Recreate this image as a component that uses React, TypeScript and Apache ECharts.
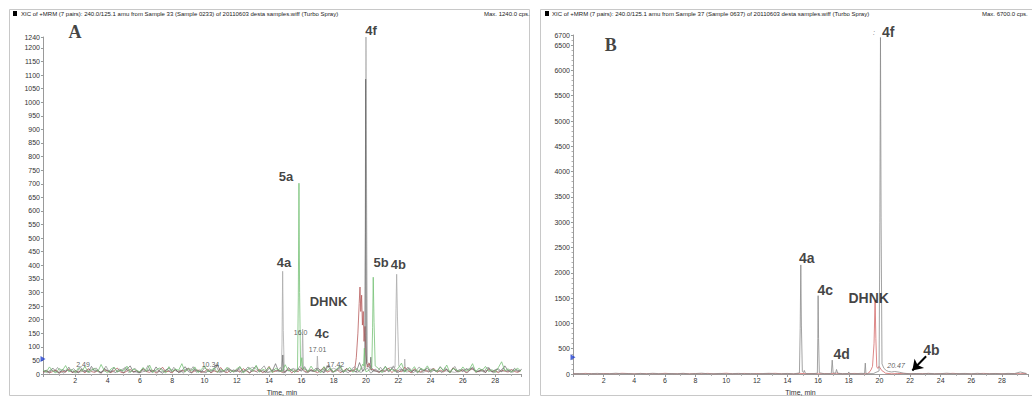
import React, { useEffect, useRef } from "react";
import * as echarts from "echarts";

const FONT = '"Liberation Sans", Arial, sans-serif';

// ---------- Panel A data ----------
const A_STEP = 0.2;
const greyNoiseA = [
  8, 14, 5, 22, 10, 3, 17, 9, 25, 6, 12, 4, 19, 11, 7,
  28, 9, 15, 3, 20, 12, 6, 24, 8, 13, 5, 18, 30, 7, 11,
  4, 21, 9, 16, 6, 26, 10, 3, 14, 22, 8, 17, 5, 12, 27,
  9, 4, 19, 11, 7, 23, 13, 6, 16, 35, 8, 12, 20, 5, 15,
  10, 25, 7, 14, 4, 18, 29, 9, 13, 6, 21, 11, 38, 8, 16,
  5, 24, 12, 7, 19, 10, 27, 6, 15, 9, 22, 13, 4, 31, 17,
  8, 12, 26, 5, 20, 11, 16, 7, 42, 10, 14, 24, 9, 18, 6,
  13, 28, 7, 21, 12, 5, 17, 10, 25, 8, 15, 4, 19, 11, 23,
  6, 14, 9, 27, 12, 18, 5, 22, 10, 16, 8, 20, 13, 26, 7,
  11, 17, 4, 24, 9, 15, 19, 8, 30, 12, 6, 21, 10, 14,
];
// second dark trace, sampled between the points of the first
const greyNoiseA2 = [
  12, 4, 18, 7, 24, 9, 3, 15, 11, 20, 6, 27, 8, 13, 5,
  17, 22, 4, 10, 29, 7, 14, 5, 19, 11, 26, 6, 12, 21, 3,
  16, 9, 31, 7, 13, 4, 22, 10, 18, 5, 25, 8, 14, 3, 20,
  11, 27, 6, 15, 9, 4, 19, 12, 33, 7, 16, 5, 23, 10, 8,
  21, 4, 14, 26, 9, 12, 6, 18, 30, 5, 11, 17, 8, 24, 3,
  15, 10, 20, 7, 28, 13, 4, 16, 9, 22, 6, 19, 11, 35, 5,
  14, 23, 8, 12, 4, 18, 27, 10, 6, 15, 21, 3, 13, 9, 25,
  7, 16, 11, 30, 5, 19, 8, 14, 22, 4, 12, 26, 9, 17, 6,
  20, 10, 15, 4, 24, 8, 13, 28, 6, 18, 11, 5, 21, 14, 9,
  16, 7, 25, 12, 4, 19, 10, 23, 8, 14, 6, 17, 11, 20,
];
const greenNoiseA = [
  15, 7, 26, 11, 4, 20, 13, 31, 8, 17, 5, 23, 10, 28, 6,
  14, 21, 9, 35, 12, 4, 18, 25, 7, 16, 11, 29, 5, 19, 13,
  8, 24, 10, 33, 6, 15, 22, 12, 4, 27, 9, 18, 14, 38, 7,
  20, 11, 26, 5, 16, 30, 9, 13, 22, 6, 17, 10, 25, 12, 8,
  19, 28, 4, 14, 23, 10, 32, 7, 18, 12, 26, 5, 21, 15, 9,
  34, 11, 17, 6, 24, 13, 20, 8, 29, 10, 16, 4, 27, 12, 22,
  7, 18, 31, 9, 15, 24, 6, 20, 11, 36, 8, 14, 25, 10, 19,
  5, 28, 13, 17, 9, 22, 40, 7, 16, 12, 27, 6, 21, 14, 30,
  10, 18, 8, 25, 12, 33, 5, 20, 15, 9, 26, 11, 17, 38, 7,
  22, 13, 28, 9, 16, 6, 24, 45, 12, 19, 8, 14, 21, 10,
];
const redNoiseA = [
  6, 12, 4, 9, 15, 3, 10, 7, 18, 5, 11, 8, 14, 4, 20,
  9, 6, 13, 3, 16, 10, 5, 12, 22, 7, 4, 11, 17, 8, 13,
  5, 19, 9, 6, 14, 3, 12, 25, 8, 10, 4, 16, 7, 13, 9,
  21, 5, 11, 15, 6, 9, 18, 4, 12, 7, 24, 10, 5, 14, 8,
  16, 6, 20, 11, 4, 13, 9, 17, 5, 12, 28, 7, 10, 15, 6,
  9, 19, 4, 13, 8, 22, 11, 6, 16, 10, 5, 14, 26, 7, 12,
  8, 17, 5, 11, 20, 9, 13, 4, 15, 30, 10, 7, 18, 12, 6,
  14, 9, 22, 5, 16, 11, 8, 25, 13, 4, 19, 10, 7, 15, 9,
  12, 21, 6, 14, 8, 17, 5, 23, 11, 9, 16, 4, 13, 20, 7,
  10, 15, 6, 18, 9, 12, 5, 14, 11, 7, 16, 9, 6, 13,
];
const LIGHT_STEP_A = 0.5;
const lightNoiseA = [
  5, 12, 8, 15, 4, 10, 18, 7, 13, 6, 20, 9, 5, 14, 11, 8, 16, 6, 22, 10,
  7, 13, 5, 17, 9, 12, 25, 8, 6, 14, 10, 19, 7, 11, 15, 5, 21, 9, 13, 6,
  16, 10, 8, 24, 12, 7, 14, 5, 18, 9, 11, 6, 15, 20, 8, 13, 7, 10, 16, 9,
];
const lightPeaksA = [
  [[14.76, 12], [14.8, 110], [14.84, 378], [14.88, 160], [14.94, 18]],
  [[16.03, 14], [16.08, 165], [16.13, 18]],
  [[16.95, 10], [16.99, 66], [17.04, 12]],
  [[17.38, 8], [17.42, 24], [17.47, 9]],
  [[19.93, 30], [19.97, 520], [20.0, 1240], [20.04, 640], [20.09, 45]],
  [[21.8, 25], [21.86, 240], [21.9, 367], [21.95, 210], [22.03, 30]],
  [[22.36, 10], [22.4, 55], [22.45, 12]],
];
const darkPeaksA = [
  [[14.8, 12], [14.85, 70], [14.9, 10]],
  [[19.94, 25], [19.98, 1085], [20.03, 40]],
  [[20.25, 20], [20.3, 62], [20.36, 15]],
];
const greenPeaksA = [
  [[15.76, 18], [15.81, 280], [15.85, 702], [15.89, 300], [15.95, 28], [16.03, 60], [16.08, 20]],
  [[19.85, 30], [19.9, 95], [19.95, 20]],
  [[20.36, 25], [20.41, 170], [20.45, 356], [20.5, 190], [20.57, 30]],
];
const redPeaksA = [
  [[19.3, 15], [19.4, 60], [19.5, 150], [19.58, 260], [19.63, 320], [19.68, 230], [19.73, 290],
   [19.78, 180], [19.83, 230], [19.88, 120], [19.94, 175], [20.0, 70], [20.08, 25], [20.2, 40], [20.3, 15]],
];

// ---------- Panel B data ----------
const B_STEP = 0.4;
const greyNoiseB = [
  5, 10, 3, 8, 12, 4, 7, 15, 6, 9, 3, 11, 5, 14, 8, 4, 10, 6, 13, 3,
  9, 16, 5, 7, 11, 4, 8, 12, 6, 10, 3, 9, 14, 5, 7, 11, 4, 18, 8, 6,
  12, 5, 9, 15, 7, 10, 4, 13, 6, 8, 20, 11, 5, 9, 14, 6, 10, 4, 12, 8,
  7, 16, 5, 9, 11, 6, 13, 4, 8, 10, 5, 12, 7, 40, 9,
];
const redNoiseB = [
  8, 4, 12, 6, 3, 10, 7, 5, 14, 9, 4, 11, 6, 8, 3, 13, 7, 5, 10, 4,
  9, 6, 12, 3, 8, 15, 5, 7, 11, 4, 10, 6, 9, 13, 5, 8, 3, 12, 7, 10,
  4, 9, 6, 14, 5, 8, 11, 3, 7, 10, 6, 16, 4, 9, 12, 5, 8, 7, 11, 4,
  10, 6, 13, 5, 9, 3, 8, 12, 6, 10, 4, 7, 9, 5, 11,
];
const greyPeaksB = [
  [[14.78, 20], [14.83, 900], [14.87, 2155], [14.91, 950], [14.97, 50], [15.05, 30], [15.1, 70], [15.16, 20]],
  [[15.95, 15], [15.98, 700], [16.0, 1548], [16.03, 700], [16.08, 25]],
  [[16.86, 15], [16.92, 274], [16.98, 20]],
  [[17.14, 15], [17.2, 90], [17.28, 15]],
  [[17.96, 10], [18.0, 40], [18.05, 10]],
  [[19.03, 10], [19.08, 215], [19.12, 15]],
  [[19.98, 60], [20.03, 3000], [20.07, 6650], [20.11, 3100], [20.17, 200], [20.3, 110],
   [20.45, 70], [20.6, 50], [20.8, 40], [21.0, 50], [21.3, 35]],
];
const redPeaksB = [
  [[19.3, 20], [19.45, 80], [19.55, 150], [19.65, 600], [19.72, 1450], [19.77, 700], [19.83, 140],
   [19.9, 110], [19.97, 150], [20.05, 120], [20.15, 70], [20.3, 40]],
];

// ---------- Axes ----------
const A_XMAX = 29.6;
const A_YMAX = 1240;
const B_XMAX = 29.7;
const B_YMAX = 6700;

// ---------- Text annotations (label, time, intensity) ----------
const bigLabelsA = [
  ["4f", 20.31, 1265], ["5a", 15.05, 727], ["4a", 14.92, 411], ["DHNK", 17.68, 267],
  ["4c", 17.28, 149], ["5b", 20.93, 411], ["4b", 22.01, 404],
];
const smallLabelsA = [
  ["16.0", 15.95, 153], ["17.01", 17.0, 91], ["17.42", 18.11, 36], ["2.49", 2.48, 36], ["10.34", 10.37, 36],
];
const bigLabelsB = [
  ["4f", 20.57, 6765], ["4a", 15.26, 2292], ["4c", 16.46, 1665], ["DHNK", 19.3, 1509],
  ["4d", 17.54, 392], ["4b", 23.4, 480],
];
const smallLabelsB = [["20.47", 21.09, 176], [":", 19.64, 6740]];
const letterA = [["A", 1.98, 1258]];
const letterB = [["B", 2.46, 6505]];
const arrowB = [[23.05, 350], [22.15, 70]];
const markerA = [[0, 55]];
const markerB = [[0, 330]];

const titleA = "XIC of +MRM (7 pairs): 240.0/125.1 amu from Sample 33 (Sample 0233) of 20110603 desta samples.wiff (Turbo Spray)";
const titleB = "XIC of +MRM (7 pairs): 240.0/125.1 amu from Sample 37 (Sample 0637) of 20110603 desta samples.wiff (Turbo Spray)";
const maxA = "Max. 1240.0 cps.";
const maxB = "Max. 6700.0 cps.";

function buildTrace(step: number, noise: number[], peaks: number[][][], offset = 0) {
  let pts: number[][] = noise.map((v, i) => [Math.round((offset + i * step) * 100) / 100, v]);
  peaks.forEach((g) => {
    const lo = g[0][0] - 0.03;
    const hi = g[g.length - 1][0] + 0.03;
    pts = pts.filter((p) => p[0] < lo || p[0] > hi);
    pts = pts.concat(g);
  });
  pts.sort((a, b) => a[0] - b[0]);
  return pts;
}

function lineSeries(idx: number, data: number[][], color: string, width = 0.8) {
  return {
    type: "line", xAxisIndex: idx, yAxisIndex: idx, data, symbol: "none", silent: true,
    lineStyle: { color, width }, z: 2,
  };
}

function labelSeries(idx: number, items: any[], style: any) {
  return {
    type: "scatter", xAxisIndex: idx, yAxisIndex: idx, symbolSize: 0.1, clip: false, silent: true, z: 10,
    itemStyle: { color: "rgba(0,0,0,0)" },
    data: items.map((a) => ({ name: a[0], value: [a[1], a[2]] })),
    label: { show: true, position: "inside", formatter: (p: any) => p.name, ...style },
  };
}

function xAxis(idx: number, max: number) {
  return {
    gridIndex: idx, type: "value", min: 0, max, interval: 2,
    axisLine: { show: true, lineStyle: { color: "#9a9a9a", width: 1 } },
    axisTick: { show: true, length: 3, lineStyle: { color: "#9a9a9a" } },
    minorTick: { show: true, splitNumber: 2, length: 2, lineStyle: { color: "#b0b0b0" } },
    axisLabel: { fontSize: 7, color: "#333", margin: 3, fontFamily: FONT, showMinLabel: false, showMaxLabel: false },
    splitLine: { show: false },
    name: "Time, min", nameLocation: "middle", nameGap: 15,
    nameTextStyle: { fontSize: 7, color: "#333", fontFamily: FONT },
  };
}

function yAxis(idx: number, max: number, interval: number, minor: boolean) {
  return {
    gridIndex: idx, type: "value", min: 0, max, interval,
    axisLine: { show: true, lineStyle: { color: "#9a9a9a", width: 1 } },
    axisTick: { show: true, length: 2, lineStyle: { color: "#9a9a9a" } },
    minorTick: { show: minor, splitNumber: 5, length: 1.5, lineStyle: { color: "#b0b0b0" } },
    axisLabel: { fontSize: 7, color: "#333", margin: 3, fontFamily: FONT, formatter: (v: number) => String(v) },
    splitLine: { show: false },
  };
}

export default function App() {
  const ref = useRef<HTMLDivElement>(null);
  useEffect(() => {
    if (!ref.current) return;
    const chart = echarts.init(ref.current, null, { renderer: "svg" });
    const big = (size: number) => ({ fontSize: size, fontWeight: "bold", color: "#111", fontFamily: FONT });
    const small = { fontSize: 7, color: "#333", fontFamily: FONT };
    const serif = { fontSize: 18, fontWeight: "bold", color: "#111", fontFamily: '"Liberation Serif", "Times New Roman", serif' };

    chart.setOption({
      animation: false,
      backgroundColor: "#fff",
      grid: [
        { left: 43, top: 37, width: 478, height: 341 },
        { left: 573, top: 35, width: 455, height: 342 },
      ],
      xAxis: [xAxis(0, A_XMAX), xAxis(1, B_XMAX)],
      yAxis: [yAxis(0, A_YMAX, 50, false), yAxis(1, B_YMAX, 500, true)],
      series: [
        lineSeries(0, buildTrace(LIGHT_STEP_A, lightNoiseA, lightPeaksA), "#ababab"),
        lineSeries(0, buildTrace(A_STEP, redNoiseA, redPeaksA), "#b85c5c"),
        lineSeries(0, buildTrace(A_STEP, greyNoiseA2, [], 0.1), "#8a8a8a", 0.7),
        lineSeries(0, buildTrace(A_STEP, greyNoiseA, darkPeaksA), "#666666", 0.7),
        lineSeries(0, buildTrace(A_STEP, greenNoiseA, greenPeaksA), "#76c276"),
        lineSeries(1, buildTrace(B_STEP, redNoiseB, redPeaksB), "#d46a6a"),
        lineSeries(1, buildTrace(B_STEP, greyNoiseB, greyPeaksB), "#8c8c8c"),
        {
          type: "line", xAxisIndex: 1, yAxisIndex: 1, data: [], silent: true,
          markLine: {
            silent: true, symbol: ["none", "arrow"], symbolSize: 10,
            lineStyle: { color: "#000", width: 2, type: "solid" },
            itemStyle: { color: "#000" },
            label: { show: false },
            data: [[{ coord: arrowB[0] }, { coord: arrowB[1] }]],
          },
        },
        {
          type: "scatter", xAxisIndex: 0, yAxisIndex: 0, data: markerA, symbol: "triangle", symbolRotate: -90,
          symbolSize: [6, 5], clip: false, silent: true, itemStyle: { color: "#1f3fcf" }, z: 5,
        },
        {
          type: "scatter", xAxisIndex: 1, yAxisIndex: 1, data: markerB, symbol: "triangle", symbolRotate: -90,
          symbolSize: [6, 5], clip: false, silent: true, itemStyle: { color: "#1f3fcf" }, z: 5,
        },
        labelSeries(0, bigLabelsA, big(13)),
        labelSeries(0, smallLabelsA, small),
        labelSeries(0, letterA, serif),
        labelSeries(1, bigLabelsB, big(14)),
        labelSeries(1, smallLabelsB, { ...small, fontStyle: "italic" }),
        labelSeries(1, letterB, serif),
      ],
      graphic: [
        { type: "rect", shape: { x: 9.5, y: 9.5, width: 520, height: 386 }, style: { fill: "none", stroke: "#c8c8c8", lineWidth: 1 }, silent: true },
        { type: "rect", shape: { x: 540.5, y: 9.5, width: 520, height: 386 }, style: { fill: "none", stroke: "#c8c8c8", lineWidth: 1 }, silent: true },
        { type: "rect", shape: { x: 13, y: 11, width: 4, height: 5 }, style: { fill: "#000" }, silent: true },
        { type: "rect", shape: { x: 545, y: 11, width: 4, height: 5 }, style: { fill: "#000" }, silent: true },
        { type: "text", x: 21, y: 14, style: { text: titleA, fontSize: 6, fill: "#222", fontFamily: FONT, verticalAlign: "middle" }, silent: true },
        { type: "text", x: 484, y: 14, style: { text: maxA, fontSize: 6, fill: "#222", fontFamily: FONT, verticalAlign: "middle" }, silent: true },
        { type: "text", x: 552, y: 14, style: { text: titleB, fontSize: 6, fill: "#222", fontFamily: FONT, verticalAlign: "middle" }, silent: true },
        { type: "text", x: 982, y: 14, style: { text: maxB, fontSize: 6, fill: "#222", fontFamily: FONT, verticalAlign: "middle" }, silent: true },
      ],
    });
    return () => chart.dispose();
  }, []);
  return <div ref={ref} style={{ position: "absolute", left: 0, top: 0, width: 1032, height: 401 }} />;
}
